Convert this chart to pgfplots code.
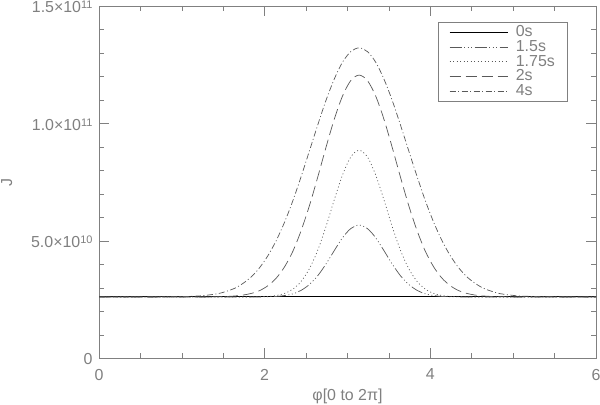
\documentclass[border=0pt]{standalone}
\usepackage{pgfplots}
\pgfplotsset{compat=1.18}
\usepackage{pgfplotstable}
\usepackage{fontspec}
\setmainfont{Liberation Sans}
\definecolor{axgray}{gray}{0.5}
\definecolor{crv}{gray}{0.35}
\newcommand{\mysup}[1]{\raisebox{0.5ex}{\fontsize{11}{11}\selectfont #1}}
\pgfplotstableread{
x s0 s15 s175 s2 s4
0.00 2.62 2.62 2.62 2.62 2.62
0.64 2.62 2.62 2.62 2.62 2.62
0.94 2.62 2.62 2.62 2.62 2.63
1.14 2.62 2.62 2.62 2.62 2.65
1.24 2.62 2.62 2.62 2.62 2.67
1.34 2.62 2.62 2.62 2.62 2.71
1.44 2.62 2.62 2.62 2.63 2.76
1.54 2.62 2.62 2.62 2.64 2.86
1.64 2.62 2.62 2.62 2.66 2.99
1.74 2.62 2.62 2.62 2.70 3.20
1.84 2.62 2.62 2.62 2.77 3.48
1.94 2.62 2.62 2.63 2.89 3.87
2.04 2.62 2.63 2.64 3.10 4.38
2.14 2.62 2.64 2.68 3.42 5.02
2.24 2.62 2.68 2.77 3.90 5.80
2.34 2.62 2.75 2.95 4.56 6.71
2.44 2.62 2.90 3.28 5.44 7.74
2.54 2.62 3.15 3.82 6.50 8.83
2.64 2.62 3.52 4.60 7.71 9.93
2.74 2.62 4.02 5.61 8.98 10.98
2.84 2.62 4.59 6.75 10.18 11.89
2.94 2.62 5.14 7.81 11.17 12.61
3.04 2.62 5.53 8.58 11.83 13.06
3.14 2.62 5.68 8.86 12.06 13.22
3.24 2.62 5.53 8.58 11.83 13.06
3.34 2.62 5.14 7.81 11.17 12.61
3.44 2.62 4.59 6.75 10.18 11.89
3.54 2.62 4.02 5.61 8.98 10.98
3.64 2.62 3.52 4.60 7.71 9.93
3.74 2.62 3.15 3.82 6.50 8.83
3.84 2.62 2.90 3.28 5.44 7.74
3.94 2.62 2.75 2.95 4.56 6.71
4.04 2.62 2.68 2.77 3.90 5.80
4.14 2.62 2.64 2.68 3.42 5.02
4.24 2.62 2.63 2.64 3.10 4.38
4.34 2.62 2.62 2.63 2.89 3.87
4.44 2.62 2.62 2.62 2.77 3.48
4.54 2.62 2.62 2.62 2.70 3.20
4.64 2.62 2.62 2.62 2.66 2.99
4.74 2.62 2.62 2.62 2.64 2.86
4.84 2.62 2.62 2.62 2.63 2.76
4.94 2.62 2.62 2.62 2.62 2.71
5.04 2.62 2.62 2.62 2.62 2.67
5.14 2.62 2.62 2.62 2.62 2.65
5.34 2.62 2.62 2.62 2.62 2.63
5.64 2.62 2.62 2.62 2.62 2.62
6.28 2.62 2.62 2.62 2.62 2.62
}\data
\begin{document}
\begin{tikzpicture}
\fontsize{16}{18}\selectfont
\path[use as bounding box] (0,0) rectangle (600bp,405bp);
\begin{axis}[
  at={(99bp,46.5bp)}, anchor=south west,
  width=497bp, height=352.5bp, scale only axis,
  xmin=0, xmax=6, ymin=0, ymax=15,
  axis line style={axgray, line width=0.7bp},
  tick style={axgray, line width=0.6bp},
  tick align=inside, tick pos=both,
  major tick length=10bp, minor tick length=5bp,
  xtick={0,2,4,6}, xticklabels={0,2,4,6},
  minor x tick num=3,
  ytick={0,5,10,15},
  yticklabels={0,{5.0×10\mysup{10}},{1.0×10\mysup{11}},{1.5×10\mysup{11}}},
  minor y tick num=4,
  ticklabel style={font=\fontsize{16}{18}\selectfont, text=axgray},
  xticklabel style={yshift=-5bp},
  yticklabel style={xshift=-1bp, yshift=-1bp},
  xlabel={φ[0 to 2π]},
  ylabel={J},
  label style={font=\fontsize{16}{18}\selectfont, text=axgray},
  xlabel style={yshift=2.5bp},
  ylabel style={yshift=8bp},
  legend style={at={(0.682,0.955)}, anchor=north west, draw=axgray, line width=0.6bp,
    font=\fontsize{16}{18}\selectfont, text=axgray,
    nodes={inner sep=1.2bp, text height=10.5bp, text depth=1.7bp},
    inner xsep=11bp, inner ysep=3bp, row sep=0bp},
  legend cell align=left,
  legend image code/.code={\draw[#1] (0bp,0bp) -- (58bp,0bp); \path (64.5bp,0bp);},
]
\addplot[black, line width=0.9bp] table[x=x, y=s0] {\data};
\addlegendentry{0s}
\addplot[crv, line width=0.7bp, smooth, dash pattern=on 12bp off 2.5bp on 1bp off 2.5bp on 1bp off 2.5bp on 1bp off 2.5bp] table[x=x, y=s15] {\data};
\addlegendentry{1.5s}
\addplot[crv, line width=0.7bp, smooth, dash pattern=on 1bp off 2.5bp] table[x=x, y=s175] {\data};
\addlegendentry{1.75s}
\addplot[crv, line width=0.7bp, smooth, dash pattern=on 11bp off 5bp] table[x=x, y=s2] {\data};
\addlegendentry{2s}
\addplot[crv, line width=0.7bp, smooth, dash pattern=on 6bp off 2.5bp on 1bp off 2.5bp] table[x=x, y=s4] {\data};
\addlegendentry{4s}
\end{axis}
\end{tikzpicture}
\end{document}
